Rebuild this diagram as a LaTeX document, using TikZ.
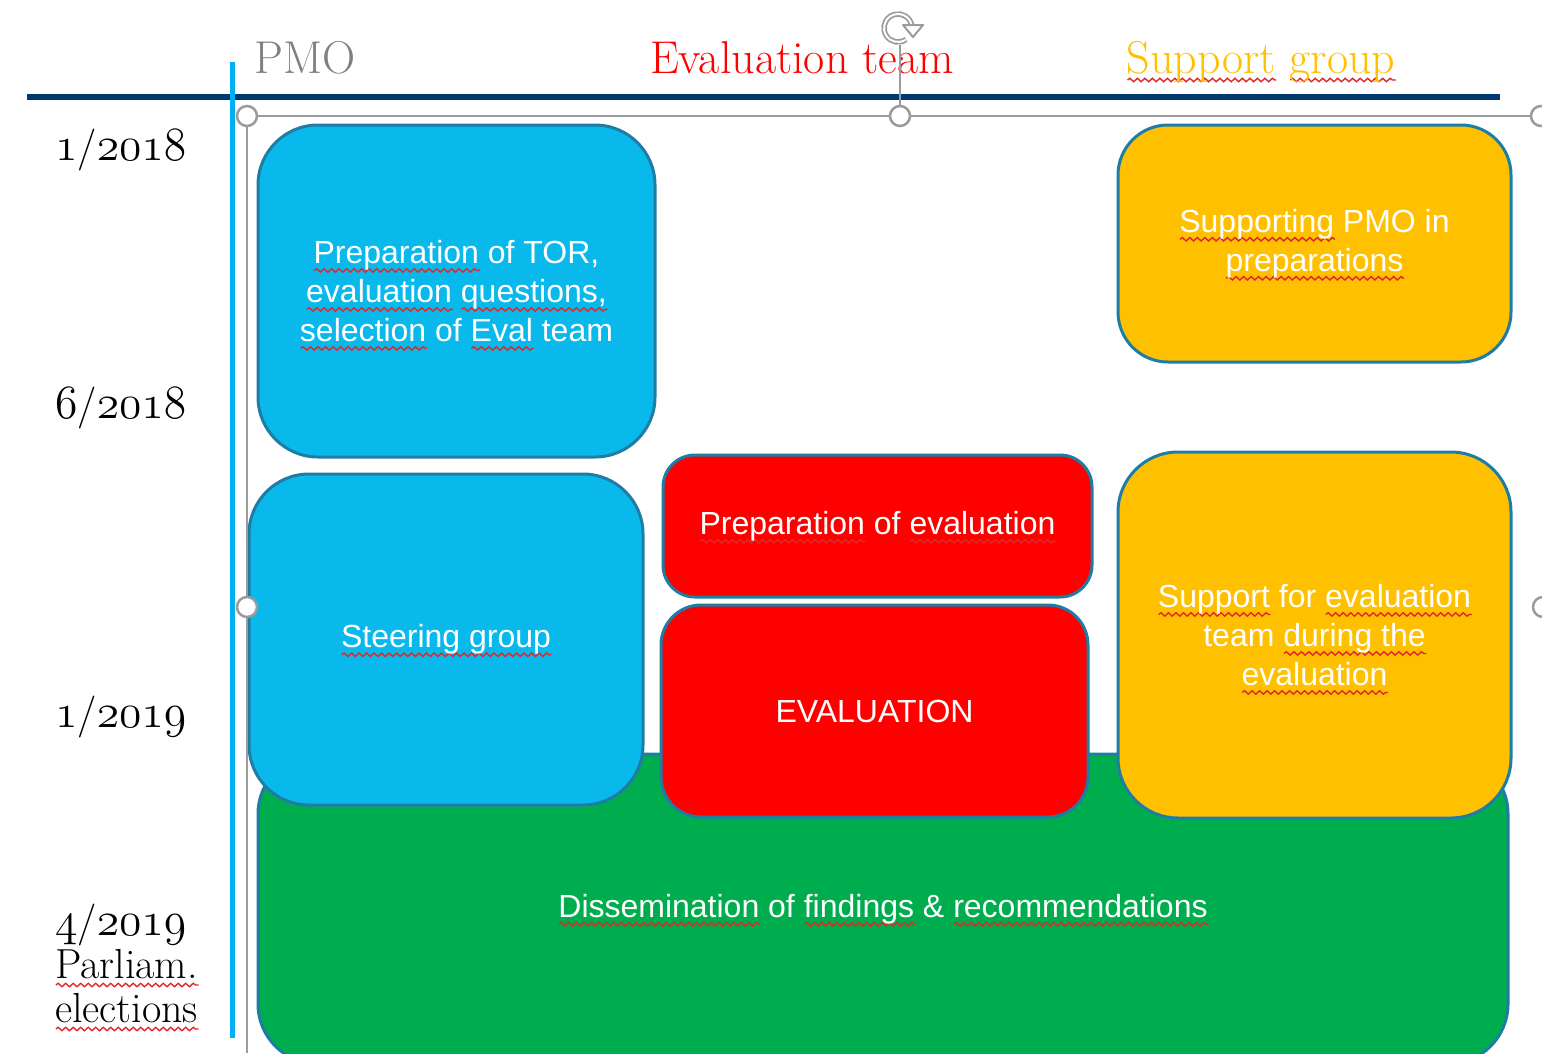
\documentclass[tikz,border=0pt]{standalone}
\usepackage{fontspec}
\newfontfamily\arialf{Liberation Sans}
\usetikzlibrary{arrows.meta,decorations.pathmorphing}
\definecolor{navyline}{RGB}{0,56,112}
\definecolor{cyanline}{RGB}{0,176,240}
\definecolor{boxblue}{RGB}{10,185,235}
\definecolor{boxyellow}{RGB}{255,192,0}
\definecolor{boxred}{RGB}{255,0,0}
\definecolor{boxgreen}{RGB}{0,173,78}
\definecolor{boxedge}{RGB}{30,125,165}
\definecolor{handlegray}{RGB}{155,155,155}
\definecolor{pmogray}{RGB}{128,128,128}
\definecolor{wavered}{RGB}{225,40,40}
\newcommand\wv[1]{\setbox0=\hbox{#1}\edef\wvw{\the\wd0}%
  \rlap{\smash{\tikz[baseline=0pt,x=1pt,y=1pt,sharp corners]\draw[wavered, line width=1.4pt, sharp corners, decorate,
    decoration={snake, amplitude=1.7pt, segment length=7.5pt}] (0pt,-7pt) -- (\wvw,-7pt);}}\box0\relax}
\newcommand\osn[1]{\scalebox{2.2}[2.3]{\fontsize{20.74}{25}\usefont{OML}{cmm}{m}{it}#1}}
\begin{document}
\begin{tikzpicture}[x=1pt,y=-1pt,
  box/.style={draw=boxedge, line width=3pt, text=white, font=\arialf\fontsize{32}{39}\selectfont, align=center, inner sep=0pt},
  handle/.style={draw=handlegray, line width=2.5pt, fill=white, circle, minimum size=20pt, inner sep=0pt},
  framel/.style={draw=handlegray, line width=2pt},
  hdr/.style={font=\fontsize{46}{52}\selectfont, anchor=base, inner sep=0pt},
  datel/.style={font=\fontsize{42}{45}\selectfont, anchor=base west, inner sep=0pt}]
\useasboundingbox (0,0) rectangle (1542,1053);
% axes lines
\coordinate (navyL) at (27,97);
\coordinate (navyR) at (1500,97);
\coordinate (cyanT) at (232,62);
\coordinate (cyanB) at (232,1038);
\draw[navyline, line width=6pt] (navyL) -- (navyR);
\draw[cyanline, line width=5pt] (cyanT) -- (cyanB);
% headers
\node[hdr, text=pmogray] (pmo) at (305,73) {PMO};
\node[hdr, text=boxred] (evalteam) at (802,73) {Evaluation team};
\node[hdr, text=boxyellow] (supgroup) at (1261,73) {\wv{Support} \wv{group}};
% dates
\node[datel] (d1) at (55,160) {\osn{1}/\osn{2018}};
\node[datel] (d2) at (55,418) {\osn{6}/\osn{2018}};
\node[datel] (d3) at (55,727) {\osn{1}/\osn{2019}};
\node[datel] (d4) at (55,935) {\osn{4}/\osn{2019}};
\node[datel] (d5) at (55,978) {\wv{Parliam.}};
\node[datel] (d6) at (55,1022) {\wv{elections}};
% boxes
\node[box, fill=boxgreen, rounded corners=60pt, minimum width=1250pt, minimum height=310pt] (diss) at (883,909)
  {\wv{Dissemination} of \wv{findings} \& \wv{recommendations}};
\node[box, fill=boxblue, rounded corners=60pt, minimum width=397pt, minimum height=332pt] (tor) at (456.5,291)
  {\wv{Preparation} of TOR,\\ \wv{evaluation} \wv{questions,}\\ \wv{selection} of \wv{Eval} team};
\node[box, fill=boxyellow, rounded corners=50pt, minimum width=393pt, minimum height=237pt] (suppmo) at (1314.5,243.5)
  {\wv{Supporting} PMO in\\ \wv{preparations}};
\node[box, fill=boxblue, rounded corners=60pt, minimum width=394pt, minimum height=331pt] (steer) at (446,639.5)
  {\wv{Steering group}};
\node[box, fill=boxred, rounded corners=32pt, minimum width=429pt, minimum height=142pt] (prepeval) at (877.5,526)
  {\wv{Preparation} of \wv{evaluation}};
\node[box, fill=boxred, rounded corners=40pt, minimum width=427pt, minimum height=212pt] (evalbox) at (874.5,711)
  {EVALUATION};
\node[box, fill=boxyellow, rounded corners=60pt, minimum width=393pt, minimum height=366pt] (supeval) at (1314.5,635)
  {\wv{Support} for \wv{evaluation}\\ team \wv{during the}\\ \wv{evaluation}};
% selection frame
\coordinate (fTL) at (247,116);
\coordinate (fTR) at (1542,116);
\coordinate (fBL) at (247,1053);
\coordinate (rot) at (900,45);
\coordinate (rc) at (898,28);
\draw[framel] (fTR) -- (fTL) -- (fBL);
\node[handle] (hTL) at (247,116) {};
\node[handle] (hTM) at (900,116) {};
\node[handle] (hTR) at (1541,116) {};
\node[handle] (hML) at (247,607) {};
\node[handle] (hMR) at (1543,607) {};
\draw[framel] (rot) -- (hTM);
% rotation icon
\draw[handlegray, line width=5.5pt] (rc) ++(55:14) arc[start angle=55, end angle=352, radius=14];
\draw[white, line width=2pt] (rc) ++(57:14) arc[start angle=57, end angle=350, radius=14];
\draw[handlegray, line width=2pt, fill=white, line join=round] (903,25) -- (923,25) -- (913,37) -- cycle;
\end{tikzpicture}
\end{document}
